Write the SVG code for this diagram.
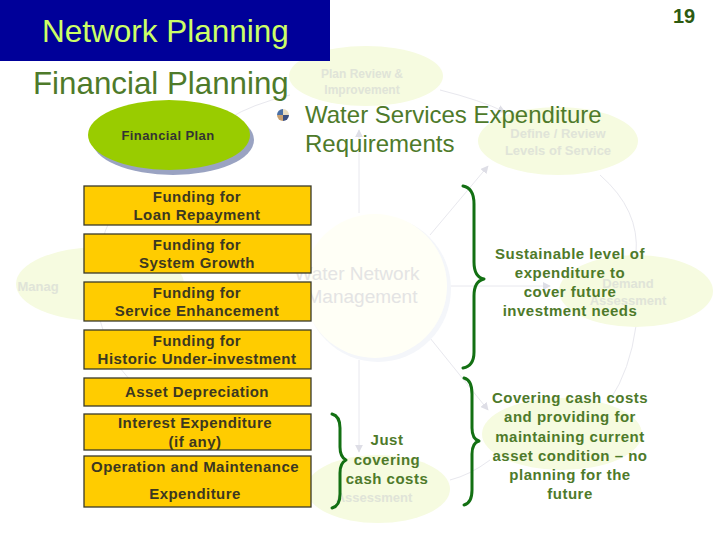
<svg xmlns="http://www.w3.org/2000/svg" width="720" height="540" viewBox="0 0 720 540">
<defs>
<marker id="fa" viewBox="0 0 10 10" refX="9" refY="5" markerWidth="8" markerHeight="8" orient="auto"><path d="M0,0 L10,5 L0,10 z" fill="#dedee6"/></marker>
<style>
.bg{fill:#f6fbe0;stroke:none}
.ft{font-family:"Liberation Sans",Arial,sans-serif;font-weight:bold;fill:#e0e4d8;text-anchor:middle}
.fl{fill:none;stroke:#e8e8ee;stroke-width:1}
.box{fill:#ffcc00;stroke:#3a3a2a;stroke-width:1.3}
.bt{font-family:"Liberation Sans",Arial,sans-serif;font-weight:bold;font-size:15px;letter-spacing:0.45px;fill:#3c3820;text-anchor:middle}
.gt{font-family:"Liberation Sans",Arial,sans-serif;font-weight:bold;font-size:15px;letter-spacing:0.5px;fill:#4e7a2a;text-anchor:middle}
.br{fill:none;stroke:#137013;stroke-width:3;stroke-linejoin:round;stroke-linecap:round}
.hd{font-family:"Liberation Sans",Arial,sans-serif;fill:#4e7a2a}
</style>
</defs>
<rect width="720" height="540" fill="#ffffff"/>

<!-- faint background cycle -->
<g id="connectors">
<path class="fl" d="M440,90 Q480,100 505,112" marker-end="url(#fa)"/>
<path class="fl" d="M359,213 L359,130" marker-end="url(#fa)"/>
<path class="fl" d="M430,235 L488,166" marker-end="url(#fa)"/>
<path class="fl" d="M448,286 L550,286" marker-end="url(#fa)"/>
<path class="fl" d="M430,338 L488,410" marker-end="url(#fa)"/>
<path class="fl" d="M359,360 L359,452" marker-end="url(#fa)"/>
<path class="fl" d="M305,286 L185,286"/>
<path class="fl" d="M290,95 Q250,105 230,118"/>
<path class="fl" d="M600,175 Q640,210 636,254"/>
<path class="fl" d="M636,326 Q630,370 610,400"/>
<path class="fl" d="M490,460 Q470,475 450,480"/>
<path class="fl" d="M305,500 Q250,480 230,470"/>
<path class="fl" d="M100,320 Q110,360 130,380"/>
<path class="fl" d="M100,248 Q110,210 130,190"/>
</g>

<g id="bg-nodes">
<g id="bg-plan-review"><ellipse class="bg" cx="366" cy="76" rx="77" ry="30"/><text class="ft" x="362" y="78" font-size="12">Plan Review &amp;</text><text class="ft" x="362" y="94" font-size="12">Improvement</text></g>
<g id="bg-define"><ellipse class="bg" cx="558" cy="141" rx="80" ry="34"/><text class="ft" x="558" y="138" font-size="13">Define / Review</text><text class="ft" x="558" y="155" font-size="13">Levels of Service</text></g>
<g id="bg-demand"><ellipse class="bg" cx="636" cy="291" rx="77" ry="36"/><text class="ft" x="628" y="288" font-size="13">Demand</text><text class="ft" x="628" y="305" font-size="13">Assessment</text></g>
<g id="bg-condition"><ellipse class="bg" cx="562" cy="434" rx="80" ry="36"/></g>
<g id="bg-capacity"><ellipse class="bg" cx="378" cy="489" rx="72" ry="34"/><text class="ft" x="374" y="502" font-size="13">Assessment</text></g>
<g id="bg-manag"><ellipse class="bg" cx="100" cy="284" rx="84" ry="37"/><text class="ft" x="38" y="291" font-size="13" text-anchor="start">Manag</text></g>
<g id="bg-centre"><circle cx="378" cy="289" r="73" fill="#f4f6fa"/><circle cx="375" cy="286" r="72" fill="#fffff6"/><text x="357" y="280" font-family="Liberation Sans,Arial,sans-serif" font-size="19" fill="#e4e4e4" text-anchor="middle">Water Network</text><text x="362" y="303" font-family="Liberation Sans,Arial,sans-serif" font-size="19" fill="#e4e4e4" text-anchor="middle">Management</text></g>
</g>

<!-- header -->
<g id="header">
<rect x="0" y="0" width="330" height="61" fill="#000099"/>
<text x="42" y="42" font-family="Liberation Sans,Arial,sans-serif" font-size="31.5" fill="#ccff66">Network Planning</text>
<text x="684" y="23" font-family="Liberation Sans,Arial,sans-serif" font-size="20" font-weight="bold" fill="#2d5a10" text-anchor="middle">19</text>
<text class="hd" x="33" y="94" font-size="31.3">Financial Planning</text>
</g>

<g id="financial-plan">
<ellipse cx="173" cy="140" rx="81" ry="35" fill="#9aa3c2"/>
<ellipse cx="169" cy="135" rx="81" ry="35" fill="#99cc00"/>
<text x="168" y="140" font-family="Liberation Sans,Arial,sans-serif" font-size="13" font-weight="bold" letter-spacing="0.4" fill="#333333" text-anchor="middle">Financial Plan</text>
</g>

<g id="wse-title">
<g transform="translate(283,115)">
<path d="M0,0 L0,-6 A6,6 0 0 0 -6,0 z" fill="#4a6fa5"/>
<path d="M0,0 L6,0 A6,6 0 0 0 0,-6 z" fill="#e8dcc0"/>
<path d="M0,0 L-6,0 A6,6 0 0 0 0,6 z" fill="#c8a070"/>
<path d="M0,0 L0,6 A6,6 0 0 0 6,0 z" fill="#3a4f80"/>
</g>
<text class="hd" x="305" y="123" font-size="24">Water Services Expenditure</text>
<text class="hd" x="305" y="152" font-size="24">Requirements</text>
</g>

<!-- boxes -->
<g id="box-loan"><rect class="box" x="84" y="186" width="227" height="39"/><text class="bt" x="197" y="202">Funding for</text><text class="bt" x="197" y="220">Loan Repayment</text></g>
<g id="box-growth"><rect class="box" x="84" y="234" width="227" height="39"/><text class="bt" x="197" y="250">Funding for</text><text class="bt" x="197" y="268">System Growth</text></g>
<g id="box-enh"><rect class="box" x="84" y="282" width="227" height="39"/><text class="bt" x="197" y="298">Funding for</text><text class="bt" x="197" y="316">Service Enhancement</text></g>
<g id="box-hist"><rect class="box" x="84" y="330" width="227" height="39"/><text class="bt" x="197" y="346">Funding for</text><text class="bt" x="197" y="364">Historic Under-investment</text></g>
<g id="box-dep"><rect class="box" x="84" y="378" width="227" height="28"/><text class="bt" x="197" y="397">Asset Depreciation</text></g>
<g id="box-int"><rect class="box" x="84" y="414" width="227" height="36"/><text class="bt" x="195" y="428">Interest Expenditure</text><text class="bt" x="195" y="447">(if any)</text></g>
<g id="box-om"><rect class="box" x="84" y="456" width="227" height="51"/><text class="bt" x="195" y="472">Operation and Maintenance</text><text class="bt" x="195" y="499">Expenditure</text></g>

<!-- braces -->
<g id="brace-sustainable"><path class="br" d="M463,186 Q474,188 474,204 L474,262 Q474,277 484,279 Q474,281 474,296 L474,352 Q474,366 463,368"/></g>
<g id="brace-covering"><path class="br" d="M464,378 Q472,380 472,394 L472,428 Q472,439 479,441 Q472,443 472,454 L472,490 Q472,503 464,505"/></g>
<g id="brace-just"><path class="br" d="M332,414 Q340,416 340,428 L340,447 Q340,457 346,460 Q340,463 340,473 L340,494 Q340,506 332,508"/></g>

<!-- labels -->
<g id="label-sustainable"><text class="gt" x="570" y="259">Sustainable level of</text><text class="gt" x="570" y="278">expenditure to</text><text class="gt" x="570" y="297">cover future</text><text class="gt" x="570" y="316">investment needs</text></g>
<g id="label-covering"><text class="gt" x="570" y="403">Covering cash costs</text><text class="gt" x="570" y="422">and providing for</text><text class="gt" x="570" y="442">maintaining current</text><text class="gt" x="570" y="461">asset condition – no</text><text class="gt" x="570" y="480">planning for the</text><text class="gt" x="570" y="499">future</text></g>
<g id="label-just"><text class="gt" x="387" y="445">Just</text><text class="gt" x="387" y="465">covering</text><text class="gt" x="387" y="484">cash costs</text></g>
</svg>
